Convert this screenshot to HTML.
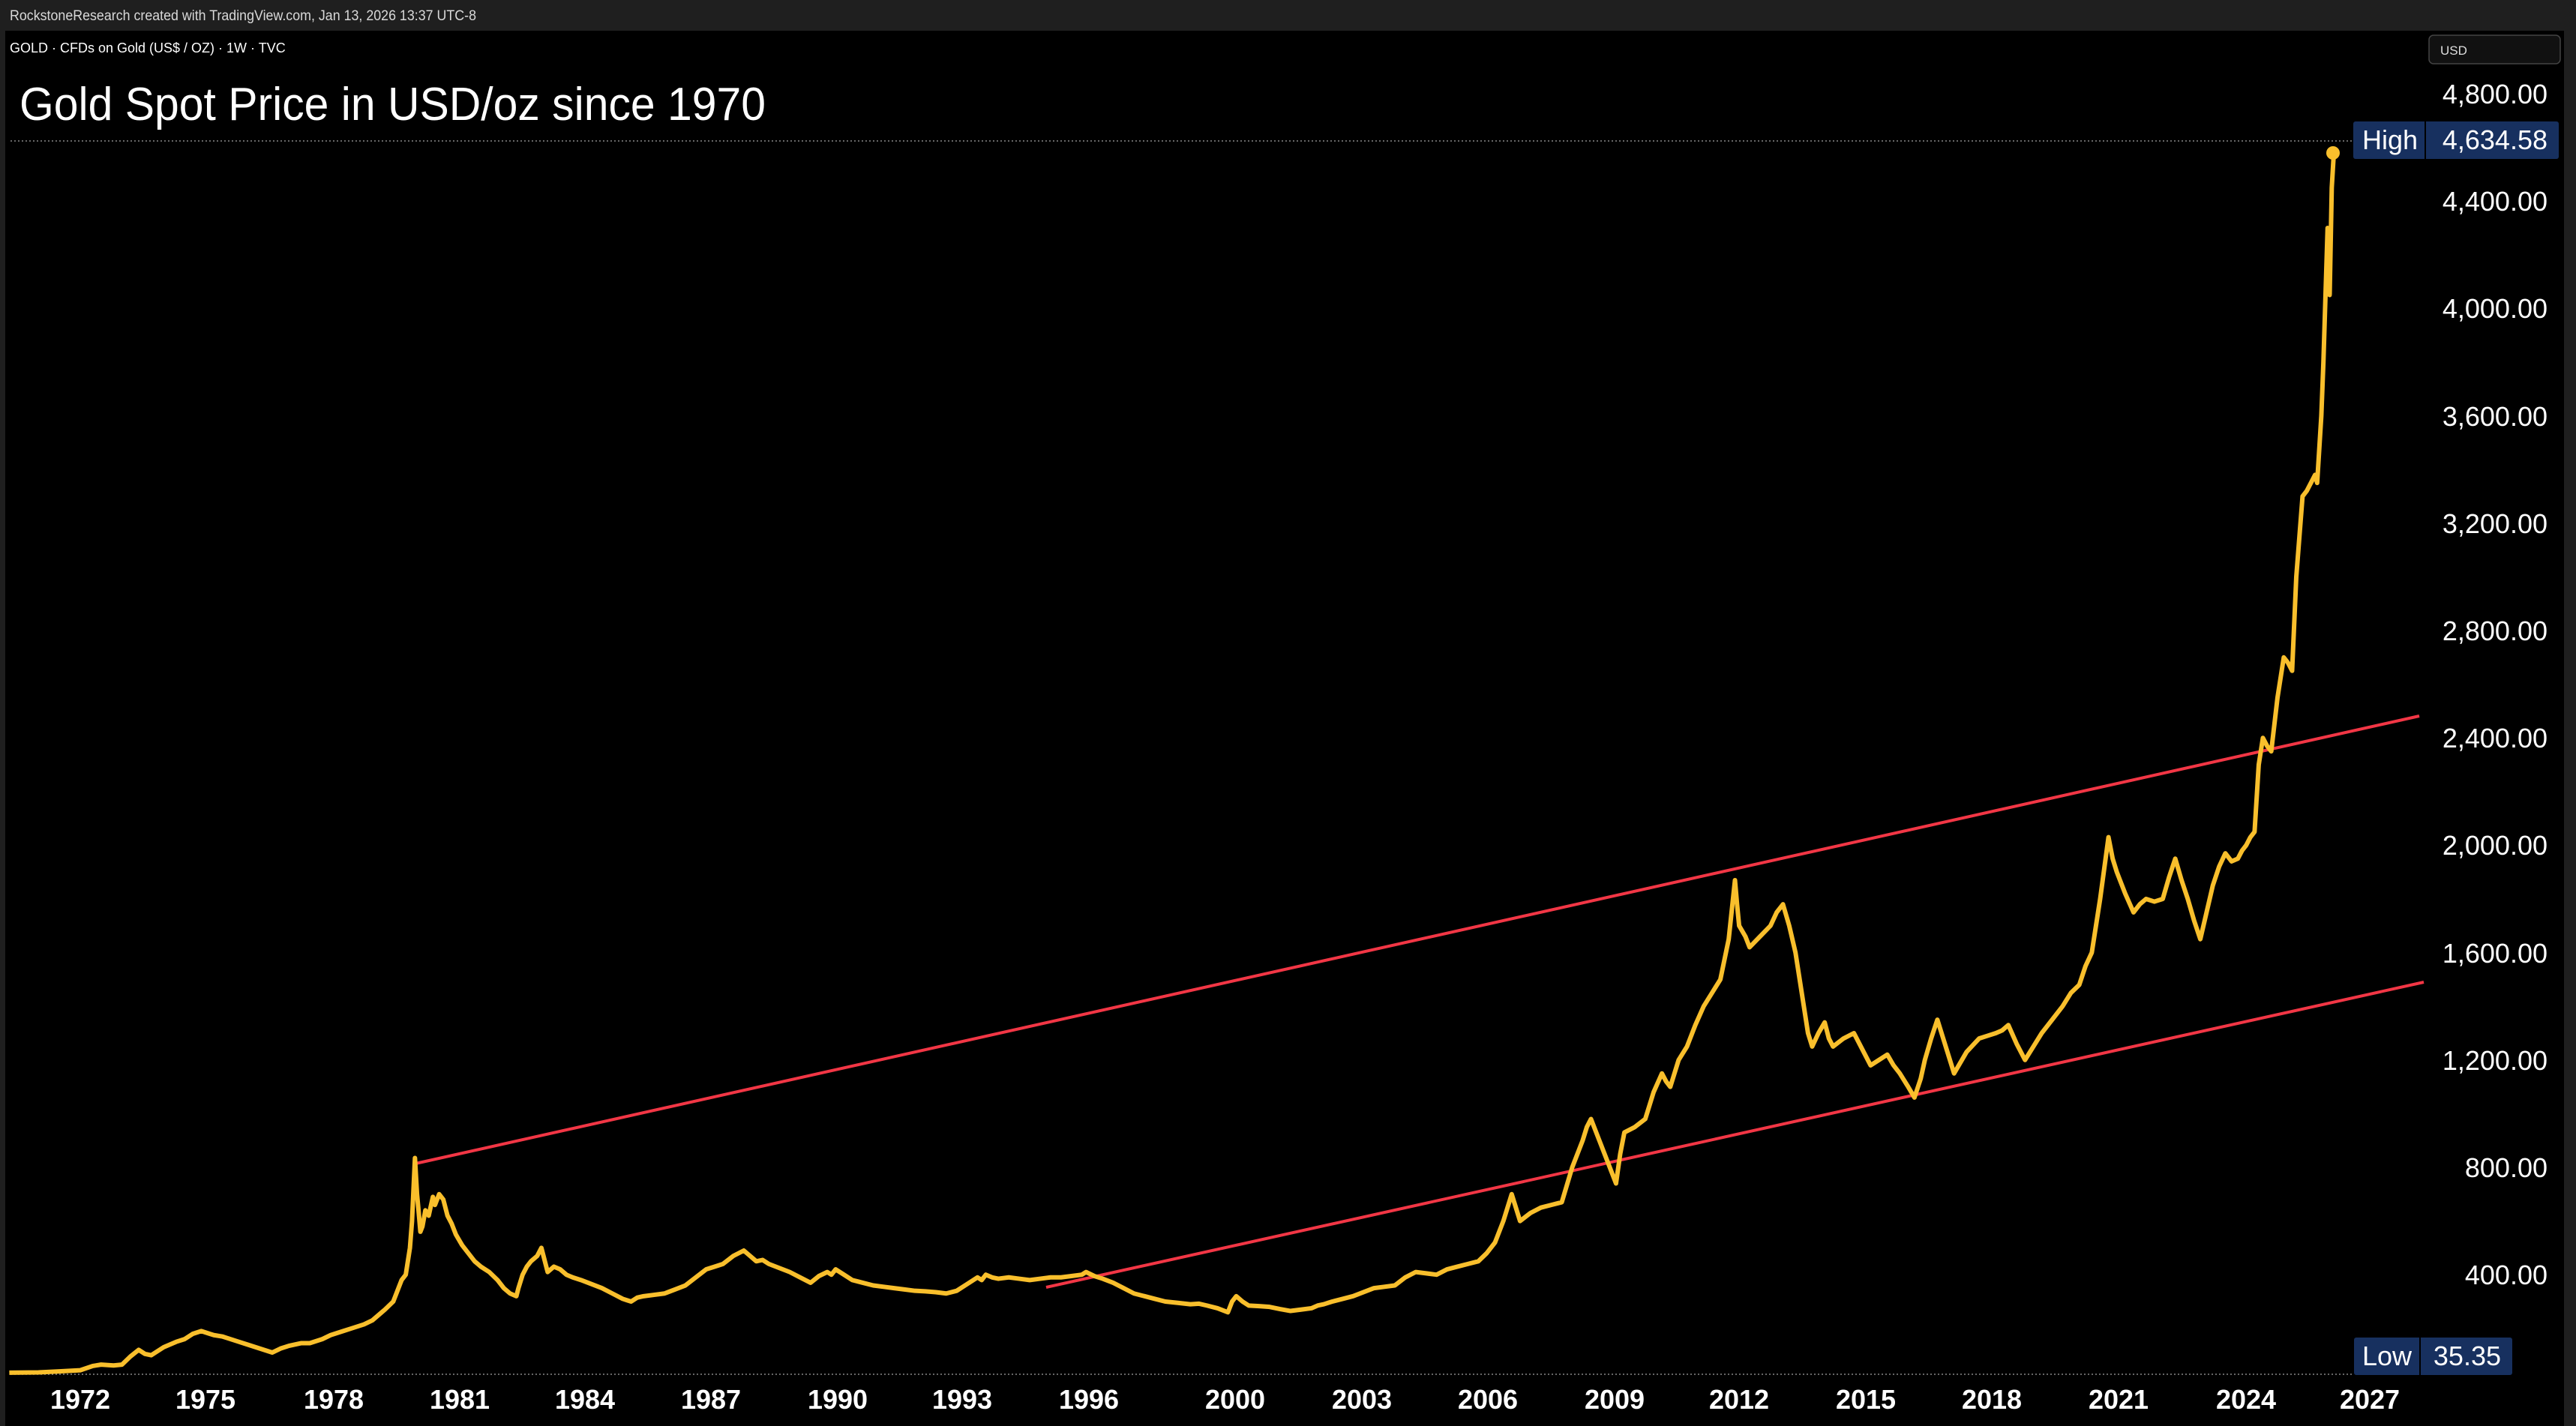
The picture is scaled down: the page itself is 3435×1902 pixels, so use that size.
<!DOCTYPE html>
<html><head><meta charset="utf-8"><style>
html,body{margin:0;padding:0;background:#1f1f1f;}
body{width:3435px;height:1902px;position:relative;overflow:hidden;font-family:"Liberation Sans","DejaVu Sans",sans-serif;}
.panel{position:absolute;left:7px;top:41px;width:3412px;height:1861px;background:#000;}
</style></head><body>
<div class="panel"></div>
<svg style="position:absolute;left:0;top:0" width="3435" height="1902">
<line x1="14" y1="188" x2="3138" y2="188" stroke="#888" stroke-width="1.5" stroke-dasharray="2,3"/>
<line x1="14" y1="1833" x2="3139" y2="1833" stroke="#888" stroke-width="1.5" stroke-dasharray="2,3"/>
<line x1="554" y1="1552" x2="3226" y2="955" stroke="#f23645" stroke-width="4"/>
<line x1="1395" y1="1717" x2="3232" y2="1310" stroke="#f23645" stroke-width="4"/>
<g transform="matrix(55.65,0,0,-0.358,-4.3,1843.4)">
<polyline vector-effect="non-scaling-stroke" fill="none" stroke="#f9bf2c" stroke-width="6" stroke-linejoin="round" points="0.3,35 1.0,36 1.5,40 2.0,44 2.3,60 2.5,65 2.8,62 3.0,65 3.2,95 3.4,120 3.55,105 3.7,100 4.0,130 4.3,150 4.5,160 4.7,180 4.9,190 5.1,180 5.2,175 5.4,170 5.5,165 5.8,150 6.0,140 6.3,125 6.6,110 6.8,125 7.0,135 7.3,145 7.5,145 7.8,160 8.0,175 8.3,190 8.5,200 8.8,215 9.0,230 9.3,270 9.5,300 9.7,380 9.8,400 9.9,500 9.95,600 10.02,835 10.07,700 10.1,650 10.15,560 10.2,580 10.27,640 10.35,620 10.45,690 10.5,660 10.6,700 10.7,680 10.8,620 10.9,590 11.0,550 11.15,510 11.3,480 11.45,450 11.6,430 11.8,410 12.0,380 12.15,350 12.3,330 12.45,320 12.5,350 12.6,400 12.7,430 12.8,450 12.95,470 13.05,500 13.1,470 13.2,410 13.35,430 13.5,420 13.65,400 13.8,390 14.0,380 14.25,365 14.5,350 14.75,330 15.0,310 15.1,305 15.2,300 15.35,315 15.5,320 15.75,325 16.0,330 16.25,345 16.5,360 16.75,390 17.0,420 17.2,430 17.4,440 17.65,470 17.9,490 18.05,470 18.2,450 18.35,455 18.5,440 18.75,425 19.0,410 19.25,390 19.5,370 19.7,395 19.9,410 20.0,400 20.1,420 20.3,400 20.5,380 20.75,370 21.0,360 21.25,355 21.5,350 21.75,345 22.0,340 22.25,338 22.5,335 22.75,330 23.0,340 23.25,365 23.5,390 23.6,380 23.7,400 23.85,390 24.0,385 24.25,390 24.5,385 24.75,380 25.0,385 25.25,390 25.5,390 25.75,395 26.0,400 26.1,410 26.3,395 26.5,385 26.75,370 27.0,350 27.25,330 27.5,320 27.75,310 28.0,300 28.3,295 28.6,290 28.8,292 29.0,285 29.25,275 29.5,260 29.6,300 29.7,320 29.85,300 30.0,285 30.25,283 30.5,280 30.75,272 31.0,265 31.25,270 31.5,275 31.65,285 31.8,290 31.9,295 32.0,300 32.25,310 32.5,320 32.75,335 33.0,350 33.25,355 33.5,360 33.75,390 34.0,410 34.25,405 34.5,400 34.75,420 35.0,430 35.25,440 35.5,450 35.7,480 35.9,520 36.1,600 36.3,700 36.4,650 36.5,600 36.75,630 37.0,650 37.25,660 37.5,670 37.75,800 38.0,900 38.1,950 38.2,980 38.4,900 38.6,820 38.7,780 38.8,740 38.9,850 39.0,930 39.25,950 39.5,980 39.7,1080 39.9,1150 40.0,1120 40.1,1100 40.3,1200 40.5,1250 40.7,1330 40.9,1400 41.1,1450 41.3,1500 41.5,1650 41.65,1870 41.7,1780 41.75,1700 41.9,1660 42.0,1620 42.25,1660 42.5,1700 42.65,1750 42.8,1780 42.95,1700 43.1,1600 43.2,1500 43.3,1400 43.4,1300 43.5,1250 43.65,1300 43.8,1340 43.9,1280 44.0,1250 44.25,1280 44.5,1300 44.7,1240 44.9,1180 45.1,1200 45.3,1220 45.45,1180 45.6,1150 45.8,1100 45.95,1060 46.1,1130 46.2,1200 46.35,1280 46.5,1350 46.7,1250 46.9,1150 47.2,1230 47.5,1280 47.7,1290 47.9,1300 48.05,1310 48.2,1330 48.4,1260 48.6,1200 48.8,1250 49.0,1300 49.25,1350 49.5,1400 49.7,1450 49.9,1480 50.05,1550 50.2,1600 50.4,1800 50.6,2030 50.7,1950 50.8,1900 51.0,1820 51.2,1750 51.35,1780 51.5,1800 51.7,1790 51.9,1800 52.05,1880 52.2,1950 52.35,1870 52.5,1800 52.65,1720 52.8,1650 52.95,1750 53.1,1850 53.25,1920 53.4,1970 53.55,1940 53.7,1950 53.8,1980 53.9,2000 54.0,2030 54.1,2050 54.2,2300 54.3,2400 54.4,2370 54.5,2350 54.65,2550 54.8,2700 54.9,2680 55.0,2650 55.1,3000 55.25,3300 55.35,3320 55.45,3350 55.55,3380 55.6,3350 55.7,3600 55.75,3800 55.8,4050 55.85,4300 55.9,4050 55.95,4450 56.0,4580"/>
</g>
<circle cx="3111" cy="204" r="9" fill="#f9bf2c"/>
<rect x="3239" y="47" width="175" height="38" rx="6" fill="#111" stroke="#444" stroke-width="1.5"/>
<rect x="3138" y="162" width="274" height="50" rx="3" fill="#17305f"/>
<line x1="3234" y1="162" x2="3234" y2="212" stroke="#000" stroke-width="2"/>
<rect x="3139" y="1784" width="211" height="50" rx="3" fill="#17305f"/>
<line x1="3227" y1="1784" x2="3227" y2="1834" stroke="#000" stroke-width="2"/>
<g font-family="Liberation Sans, sans-serif" fill="#fff">
<text x="13" y="27" font-size="19" fill="#d8d8d8" textLength="622" lengthAdjust="spacingAndGlyphs">RockstoneResearch created with TradingView.com, Jan 13, 2026 13:37 UTC-8</text>
<text x="3254" y="73" font-size="17" fill="#ddd">USD</text>
<text x="3150" y="199" font-size="36">High</text>
<text x="3397" y="199" font-size="36" text-anchor="end">4,634.58</text>
<text x="3150" y="1821" font-size="36">Low</text>
<text x="3335" y="1821" font-size="36" text-anchor="end">35.35</text>
<g font-size="36" text-anchor="end">
<text x="3397" y="138">4,800.00</text>
<text x="3397" y="281">4,400.00</text>
<text x="3397" y="424">4,000.00</text>
<text x="3397" y="568">3,600.00</text>
<text x="3397" y="711">3,200.00</text>
<text x="3397" y="854">2,800.00</text>
<text x="3397" y="997">2,400.00</text>
<text x="3397" y="1140">2,000.00</text>
<text x="3397" y="1284">1,600.00</text>
<text x="3397" y="1427">1,200.00</text>
<text x="3397" y="1570">800.00</text>
<text x="3397" y="1713">400.00</text>
</g>
<g font-size="36" font-weight="bold" text-anchor="middle">
<text x="107" y="1879">1972</text>
<text x="274" y="1879">1975</text>
<text x="445" y="1879">1978</text>
<text x="613" y="1879">1981</text>
<text x="780" y="1879">1984</text>
<text x="948" y="1879">1987</text>
<text x="1117" y="1879">1990</text>
<text x="1283" y="1879">1993</text>
<text x="1452" y="1879">1996</text>
<text x="1647" y="1879">2000</text>
<text x="1816" y="1879">2003</text>
<text x="1984" y="1879">2006</text>
<text x="2153" y="1879">2009</text>
<text x="2319" y="1879">2012</text>
<text x="2488" y="1879">2015</text>
<text x="2656" y="1879">2018</text>
<text x="2825" y="1879">2021</text>
<text x="2995" y="1879">2024</text>
<text x="3160" y="1879">2027</text>
</g>
<text x="13" y="70" font-size="18">GOLD · CFDs on Gold (US$ / OZ) · 1W · TVC</text>
<text x="26" y="160" font-size="62" textLength="995" lengthAdjust="spacingAndGlyphs">Gold Spot Price in USD/oz since 1970</text>
</g>
</svg>
</body></html>
